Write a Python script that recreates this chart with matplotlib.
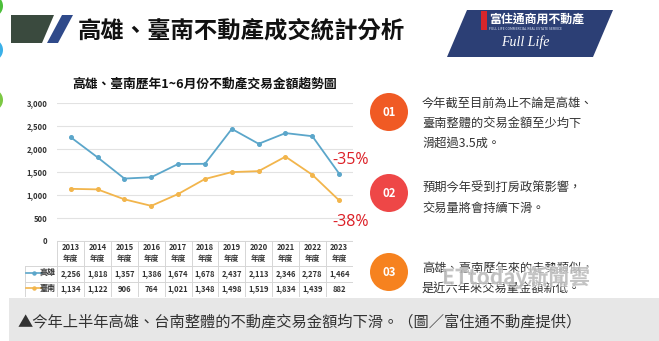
import matplotlib
matplotlib.use('Agg')
import matplotlib.pyplot as plt
from matplotlib.patches import Polygon, Circle, Rectangle
import matplotlib.patheffects as pe

plt.rcParams['font.family'] = ['Noto Sans CJK TC', 'DejaVu Sans']

# === данные ===
years = ['2013', '2014', '2015', '2016', '2017', '2018', '2019', '2020', '2021', '2022', '2023']
kaohsiung = [2256, 1818, 1357, 1386, 1674, 1678, 2437, 2113, 2346, 2278, 1464]
tainan = [1134, 1122, 906, 764, 1021, 1348, 1498, 1519, 1834, 1439, 882]
series_names = ['高雄', '臺南']
pct_labels = ['-35%', '-38%']
y_ticks = [0, 500, 1000, 1500, 2000, 2500, 3000]

notes = [
    ['今年截至目前為止不論是高雄、', '臺南整體的交易金額至少均下', '滑超過3.5成。'],
    ['預期今年受到打房政策影響，', '交易量將會持續下滑。'],
    ['高雄、臺南歷年來的走勢類似，', '是近六年來交易量金額新低。'],
]
note_nums = ['01', '02', '03']

title = '高雄、臺南不動產成交統計分析'
chart_title = '高雄、臺南歷年1~6月份不動產交易金額趨勢圖'
caption = '▲今年上半年高雄、台南整體的不動產交易金額均下滑。（圖／富住通不動產提供）'

BLUE = '#5ba6ca'
ORANGE = '#f2b54c'
RED = '#dc1f26'
TXT = '#333333'
GRID = '#e2e2e2'

W, H = 659, 341
fig = plt.figure(figsize=(W / 100, H / 100), dpi=100)
fig.patch.set_facecolor('white')

# фон в пикселях
bg = fig.add_axes([0, 0, 1, 1])
bg.set_xlim(0, W)
bg.set_ylim(H, 0)
bg.axis('off')

# декоративные кружки слева
for cy, c in [(6, '#4cbf3a'), (50, '#3ab0e8'), (100, '#7cc843')]:
    bg.add_patch(Circle((-8, cy), 11, color=c, lw=0))

# шапка
bg.add_patch(Polygon([(11, 15), (54, 15), (42, 43), (11, 43)], closed=True, color='#3a4a3e', lw=0))
bg.add_patch(Polygon([(62, 15), (73, 15), (58, 43), (47, 43)], closed=True, color='#2f4a8a', lw=0))
bg.text(78, 30, title, fontsize=16.8, fontweight='bold', color='#111111', va='center', ha='left')

# логотип
bg.add_patch(Polygon([(467, 10), (613, 10), (593, 57), (447, 57)], closed=True, color='#2c3f75', lw=0))
bg.add_patch(Rectangle((481, 11), 6, 19, color='#d8262b', lw=0))
bg.text(489, 19.5, '富住通商用不動產', fontsize=8.6, fontweight='bold', color='white', va='center', ha='left')
bg.text(489, 29, 'FULL LIFE COMMERCIAL REAL ESTATE SERVICE', fontsize=2.4, color='#dfe6f5', va='center', ha='left')
bg.text(525, 42, 'Full Life', fontsize=10, style='italic', family=['Liberation Serif'], color='white',
        va='center', ha='center')

bg.text(205, 84, chart_title, fontsize=9.2, fontweight='bold', color='#111111', va='center', ha='center')

# номера и комментарии справа
circle_cols = ['#f05a24', '#ee4747', '#f6821f']
circle_y = [112, 193, 272]
text_y0 = [103, 188, 268]
for num, col, cy, ty, lines in zip(note_nums, circle_cols, circle_y, text_y0, notes):
    bg.add_patch(Circle((389, cy), 19, color=col, lw=0))
    bg.text(389, cy + 0.5, num, fontsize=8.2, fontweight='bold', color='white', ha='center', va='center')
    for i, ln in enumerate(lines):
        bg.text(422, ty + i * 20, ln, fontsize=8.8, color=TXT, ha='left', va='center')

# водяной знак
bg.text(516, 277, 'ETtoday新聞雲', fontsize=15, fontweight='bold', color='#9a9a9a', alpha=0.45,
        ha='center', va='center',
        path_effects=[pe.withStroke(linewidth=2, foreground='white', alpha=0.6)])

# подпись снизу
bg.add_patch(Rectangle((9, 298), W - 9, H - 298, color='#e7e7e7', lw=0))
bg.text(18, 322, caption, fontsize=11, color=TXT, ha='left', va='center')

# === график ===
x0, x1 = 57.3, 352.6
ytop, ybot = 103, 241
ax = fig.add_axes([x0 / W, (H - ybot) / H, (x1 - x0) / W, (ybot - ytop) / H])
ax.patch.set_alpha(0)
xs = list(range(len(years)))
ax.plot(xs, kaohsiung, color=BLUE, lw=1.3, marker='o', ms=2.6, zorder=3)
ax.plot(xs, tainan, color=ORANGE, lw=1.3, marker='o', ms=2.6, zorder=3)
ax.set_xlim(-0.5, len(years) - 0.5)
ax.set_ylim(0, 3000)
ax.set_yticks(y_ticks)
ax.set_yticklabels([f'{v:,}' for v in y_ticks], fontsize=5.5, fontweight='bold', color=TXT)
ax.set_xticks([])
ax.tick_params(axis='y', length=0, pad=7)
ax.grid(axis='y', color=GRID, lw=0.8)
for s in ax.spines.values():
    s.set_visible(False)

ax.annotate(pct_labels[0], (xs[-1], kaohsiung[-1]), xytext=(-4.8, 9.9), textcoords='offset points',
            fontsize=11.5, color=RED, family=['Open Sans'], ha='left', va='center')
ax.annotate(pct_labels[1], (xs[-1], tainan[-1]), xytext=(-4.8, -15.5), textcoords='offset points',
            fontsize=11.5, color=RED, family=['Open Sans'], ha='left', va='center')

# === таблица ===
tx0 = 25
unit = (x1 - x0) / len(years)
tb = fig.add_axes([tx0 / W, (H - 297) / H, (x1 - tx0) / W, (297 - ybot) / H])
tb.set_xlim(-0.5 - (x0 - tx0) / unit, len(years) - 0.5)
tb.set_ylim(56, 0)
tb.axis('off')
left = -0.5 - (x0 - tx0) / unit
right = len(years) - 0.5
LC = '#d6d6d6'
tb.plot([-0.5, right], [0, 0], color=LC, lw=0.7)
for yy in [25, 40.5, 56]:
    tb.plot([left, right], [yy, yy], color=LC, lw=0.7)
for k in range(len(years) + 1):
    tb.plot([k - 0.5, k - 0.5], [0, 56], color=LC, lw=0.7)
tb.plot([left, left], [25, 56], color=LC, lw=0.7)

for i, yr in enumerate(years):
    tb.text(i, 6, yr, fontsize=5.5, fontweight='bold', color=TXT, ha='center', va='center')
    tb.text(i, 18, '年度', fontsize=5.5, fontweight='bold', color=TXT, ha='center', va='center')

for vals, name, col, ry in [(kaohsiung, series_names[0], BLUE, 32.5), (tainan, series_names[1], ORANGE, 48)]:
    tb.plot([left + 0.05, left + 0.65], [ry - 1, ry - 1], color=col, lw=1.2)
    tb.plot([left + 0.35], [ry - 1], marker='o', ms=2.2, color=col)
    tb.text(-0.55, ry, name, fontsize=5.8, fontweight='bold', color=TXT, ha='right', va='center')
    for i, v in enumerate(vals):
        tb.text(i, ry, f'{v:,}', fontsize=5.5, fontweight='bold', color=TXT, ha='center', va='center')

fig.savefig('out.png', dpi=100)
